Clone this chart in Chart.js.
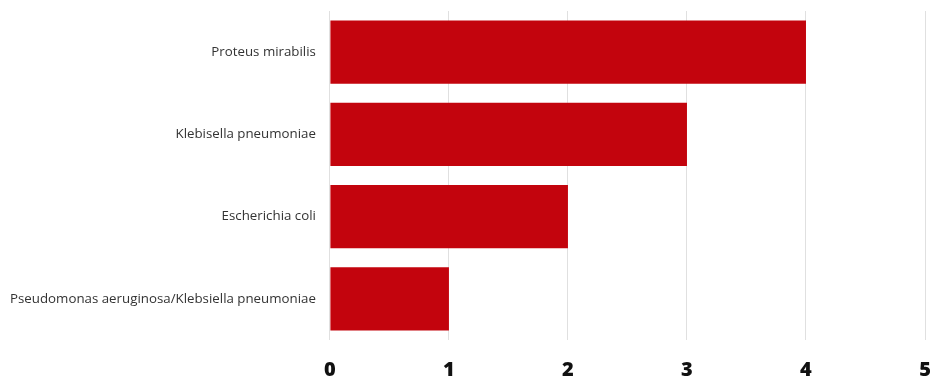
<!DOCTYPE html>
<html>
<head>
<meta charset="utf-8">
<script src="https://cdn.jsdelivr.net/npm/chart.js@4/dist/chart.umd.min.js"></script>
<style>
  html, body { margin: 0; padding: 0; background: #fff; }
  #wrap { width: 930px; height: 377px; position: relative; }
</style>
</head>
<body>
<div id="wrap"><canvas id="c"></canvas></div>
<script>
// Bacterial isolates by organism
const organisms = [
  'Proteus mirabilis',
  'Klebisella pneumoniae',
  'Escherichia coli',
  'Pseudomonas aeruginosa/Klebsiella pneumoniae'
];
const counts = [4, 3, 2, 1];
const axisMin = 0;
const axisMax = 5;

// Let the layout padding alone decide the plot edges
function noEdgePadding(scale) {
  scale.paddingTop = 0;
  scale.paddingBottom = 0;
  scale.paddingLeft = 0;
  scale.paddingRight = 0;
}

new Chart(document.getElementById('c'), {
  type: 'bar',
  data: {
    labels: organisms,
    datasets: [{
      data: counts,
      backgroundColor: '#C3040D',
      borderWidth: 0,
      categoryPercentage: 0.77,
      barPercentage: 1.0
    }]
  },
  options: {
    indexAxis: 'y',
    responsive: true,
    maintainAspectRatio: false,
    animation: false,
    layout: { padding: { left: -4, right: 5, top: 11, bottom: -23 } },
    plugins: { legend: { display: false }, tooltip: { enabled: false } },
    scales: {
      x: {
        min: axisMin,
        max: axisMax,
        afterFit: noEdgePadding,
        ticks: {
          stepSize: 1,
          color: '#111',
          padding: 18,
          font: { family: 'Open Sans', size: 20, weight: '800' }
        },
        grid: { color: '#e0e0e0', lineWidth: 1, drawTicks: false, tickLength: 0 },
        border: { display: false }
      },
      y: {
        afterFit: noEdgePadding,
        ticks: {
          color: '#333',
          padding: 14,
          font: { family: 'Open Sans', size: 13.3 }
        },
        grid: { display: false, drawTicks: false, tickLength: 0 },
        border: { display: false }
      }
    }
  }
});
</script>
</body>
</html>
